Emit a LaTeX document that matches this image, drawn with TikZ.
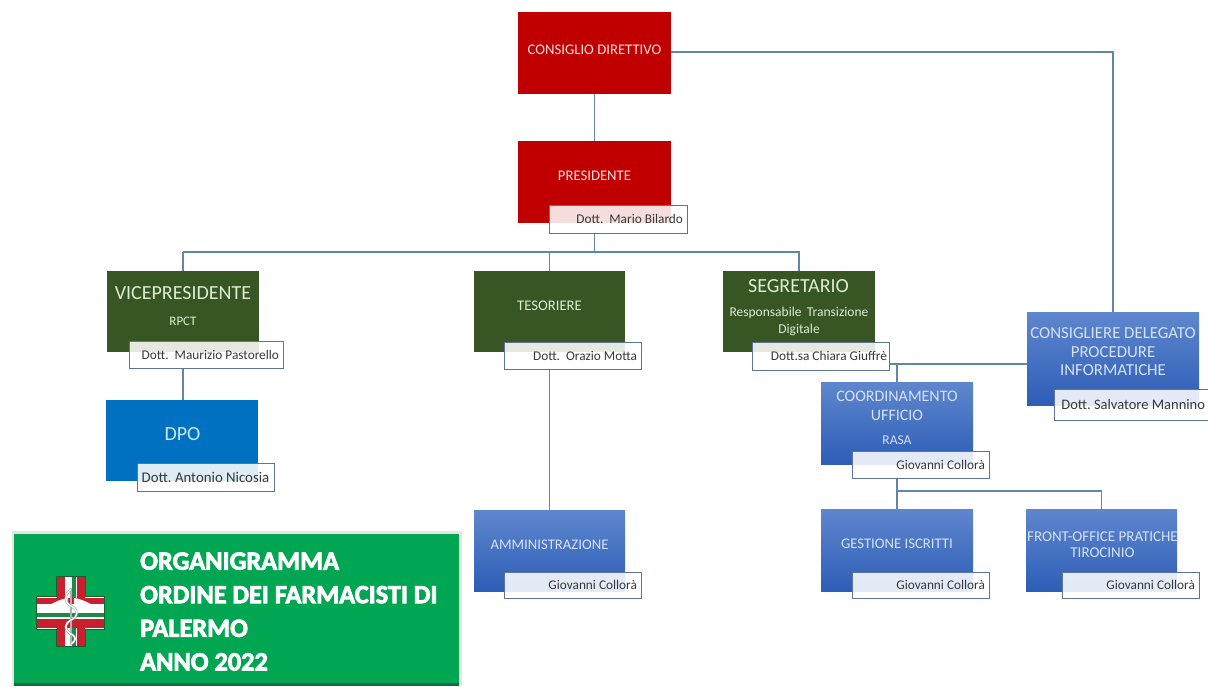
\documentclass[tikz,border=0pt]{standalone}
\usepackage{fontspec}
\setmainfont{Carlito}
\newfontfamily\titlefont[FakeBold=3]{Carlito Bold}
\definecolor{linec}{HTML}{6285AC}
\definecolor{edgec}{HTML}{5C7499}
\definecolor{redbox}{HTML}{C00000}
\definecolor{greenbox}{HTML}{375623}
\definecolor{dpobox}{HTML}{0070C0}
\definecolor{bluetop}{HTML}{5F87CE}
\definecolor{bluebot}{HTML}{2D5DB6}
\definecolor{banner}{HTML}{00A651}
\definecolor{logored}{HTML}{C8202C}
\definecolor{logogreen}{HTML}{1E8A4A}
\definecolor{paleg}{HTML}{DDEBD2}
\definecolor{paleb}{HTML}{D5E1F4}
\definecolor{palec}{HTML}{C9E8FA}
\definecolor{paler}{HTML}{FBDDDD}
\tikzset{
  wh/.style 2 args={minimum width=#1pt,minimum height=#2pt},
  orgbox/.style={rectangle,inner sep=0pt,align=center,font=\fontsize{14.7}{18}\selectfont},
  redorg/.style={orgbox,fill=redbox,text=paler},
  greenorg/.style={orgbox,fill=greenbox,text=paleg},
  dpoorg/.style={orgbox,fill=dpobox,text=palec},
  blueorg/.style={orgbox,top color=bluetop,bottom color=bluebot,text=paleb},
  tag/.style={rectangle,draw=edgec,line width=1pt,fill=white,fill opacity=.87,text opacity=1,text=black!78,
    inner sep=0pt,font=\fontsize{13.3}{16}\selectfont\frenchspacing},
  link/.style={draw=linec,line width=1.2pt},
  hugef/.style={font=\fontsize{20}{24}\selectfont},
}
\begin{document}
\begin{tikzpicture}[x=1pt,y=-1pt]
\useasboundingbox (0,0) rectangle (1208,686);
\clip (0,0) rectangle (1208,686);
% organisation boxes
\node[redorg,wh={153}{82}] (cd) at (594.5,53) {\raisebox{7pt}{CONSIGLIO DIRETTIVO}};
\node[redorg,wh={153}{82}] (pres) at (594.5,182) {\raisebox{12pt}{PRESIDENTE}};
\node[greenorg,wh={152}{81}] (vp) at (183,311.5) {};
\node[greenorg,wh={151}{81}] (tes) at (549.5,311.5) {\raisebox{12pt}{TESORIERE}};
\node[greenorg,wh={152}{81}] (seg) at (799,311.5) {};
\node[dpoorg,wh={152}{81}] (dpo) at (182,440.5) {};
\node[blueorg,wh={151}{81}] (amm) at (549.5,550.5) {\raisebox{12pt}{AMMINISTRAZIONE}};
\node[blueorg,wh={152}{82}] (coord) at (897,423) {};
\node[blueorg,wh={152}{82}] (gest) at (897,550) {\raisebox{12pt}{GESTIONE ISCRITTI}};
\node[blueorg,wh={151}{82}] (front) at (1101.5,550) {};
\node[blueorg,wh={172}{93}] (cons) at (1113,358.5) {};
% box texts
\node[text=paleg,hugef] (vpt) at (183,293) {VICEPRESIDENTE};
\node[text=paleg,font=\fontsize{13}{16}\selectfont] (vps) at (183,321) {RPCT};
\node[text=paleg,hugef] (segt) at (798.5,286) {SEGRETARIO};
\node[text=paleg,align=center,font=\fontsize{13.5}{17}\selectfont] (segs) at (799,321.5) {Responsabile\, Transizione\\Digitale};
\node[text=palec,hugef] (dpot) at (182.5,434.5) {DPO};
\node[text=paleb,align=center,font=\fontsize{16}{18.5}\selectfont] (coordt) at (897,406) {COORDINAMENTO\\UFFICIO};
\node[text=paleb,font=\fontsize{13.5}{16}\selectfont] (coords) at (897,440) {RASA};
\node[text=paleb,align=center,font=\fontsize{15}{16.5}\selectfont] (frontt) at (1102.5,544.5) {FRONT-OFFICE PRATICHE\\TIROCINIO};
\node[text=paleb,align=center,font=\fontsize{16.8}{18.5}\selectfont] (const) at (1113,352) {CONSIGLIERE DELEGATO\\PROCEDURE\\INFORMATICHE};
% name tags
\node[tag,wh={138}{28}] (presl) at (618,219) {\makebox[130pt][r]{Dott.\ \ Mario Bilardo}};
\node[tag,wh={154}{27}] (vpl) at (206,354.5) {\makebox[146pt][r]{Dott.\ \ Maurizio Pastorello}};
\node[tag,wh={137}{27}] (tesl) at (572.5,355.5) {\makebox[129pt][r]{Dott.\ \ Orazio Motta}};
\node[tag,wh={137}{28}] (segl) at (820.5,356) {\makebox[133pt][r]{Dott.sa Chiara Giuffrè}};
\node[tag,wh={137}{28},font=\fontsize{14.8}{16}\selectfont\frenchspacing] (dpol) at (205.5,477) {Dott. Antonio Nicosia};
\node[tag,wh={137}{26}] (amml) at (572.5,585) {\makebox[129pt][r]{Giovanni Collorà}};
\node[tag,wh={137}{27}] (coordl) at (920.5,464.5) {\makebox[129pt][r]{Giovanni Collorà}};
\node[tag,wh={137}{26}] (gestl) at (920.5,585) {\makebox[129pt][r]{Giovanni Collorà}};
\node[tag,wh={137}{26}] (frontl) at (1130.5,585) {\makebox[129pt][r]{Giovanni Collorà}};
\node[tag,wh={170}{31},font=\fontsize{14.5}{16}\selectfont\frenchspacing] (consl) at (1139,404.5) {\makebox[132pt][r]{Dott. Salvatore Mannino}};
% connectors
\coordinate (busw) at (183,252);
\coordinate (buse) at (799,252);
\coordinate (jseg) at (897,364);
\coordinate (jsub) at (897,491);
\draw[link] (cd) -- (pres);
\draw[link] (cd.east |- 0,52) -| (cons.north);
\draw[link] (presl.south -| pres.south) -- (pres.south |- busw);
\draw[link] (vp.north |- busw) -- (vp.north);
\draw[link] (busw) -- (buse) -- (seg.north);
\draw[link] (tes.north |- busw) -- (tes.north);
\draw[link] (vpl.south -| vp.south) -- (dpo.north -| vp.south);
\draw[link] (tesl.south -| tes.south) -- (amm.north);
\draw[link] (segl.east |- jseg) -- (cons.west |- jseg);
\draw[link] (jseg) -- (coord.north);
\draw[link] (coordl.south -| coord.south) -- (gest.north);
\draw[link] (jsub) -| (front.north);
% banner
\fill[black!10] (12,531) rectangle (462,686);
\fill[banner] (14,534) rectangle (459,686);
\fill[banner!70!black] (14,683) rectangle (459,686);
\node[anchor=west,align=left,text=white,inner sep=0pt,font=\titlefont\fontsize{26.3}{33.6}\selectfont] (title) at (140,611.5)
  {ORGANIGRAMMA\\ORDINE DEI FARMACISTI DI\\PALERMO\\ANNO 2022};
% logo: cross with stripes
\fill[logogreen!70!black] (56,576) rectangle (86,647);
\fill[logogreen!70!black] (36,596) rectangle (105,630);
\fill[white] (57,577) rectangle (85,646);
\fill[white] (37,597) rectangle (104,629);
\fill[logored] (57,577) rectangle (65,646);
\fill[logored] (77,577) rectangle (85,646);
\fill[logogreen] (72,577) rectangle (76,646);
\fill[logored] (37,598) rectangle (104,604);
\fill[white] (37,604) rectangle (104,613);
\fill[logogreen] (37,613) rectangle (104,617);
\fill[white] (37,617) rectangle (104,619);
\fill[logored] (37,619) rectangle (104,628);
% logo: wings, staff and snake
\fill[white] (68,598) .. controls (60,599) and (50,604) .. (44,609) .. controls (54,610) and (64,609) .. (68,606) -- cycle;
\fill[white] (74,598) .. controls (82,599) and (92,604) .. (98,609) .. controls (88,610) and (78,609) .. (74,606) -- cycle;
\draw[black!30,line width=2pt] (71,588) -- (71,645);
\draw[black!40,line width=2.4pt] (71,589) .. controls (64,595) and (64,602) .. (71,606) .. controls (79,610) and (79,616) .. (71,620) .. controls (64,624) and (64,630) .. (71,634) .. controls (77,637) and (76,641) .. (71,644);
\draw[white,line width=1.4pt] (71,589) .. controls (64,595) and (64,602) .. (71,606) .. controls (79,610) and (79,616) .. (71,620) .. controls (64,624) and (64,630) .. (71,634) .. controls (77,637) and (76,641) .. (71,644);
\end{tikzpicture}
\end{document}
